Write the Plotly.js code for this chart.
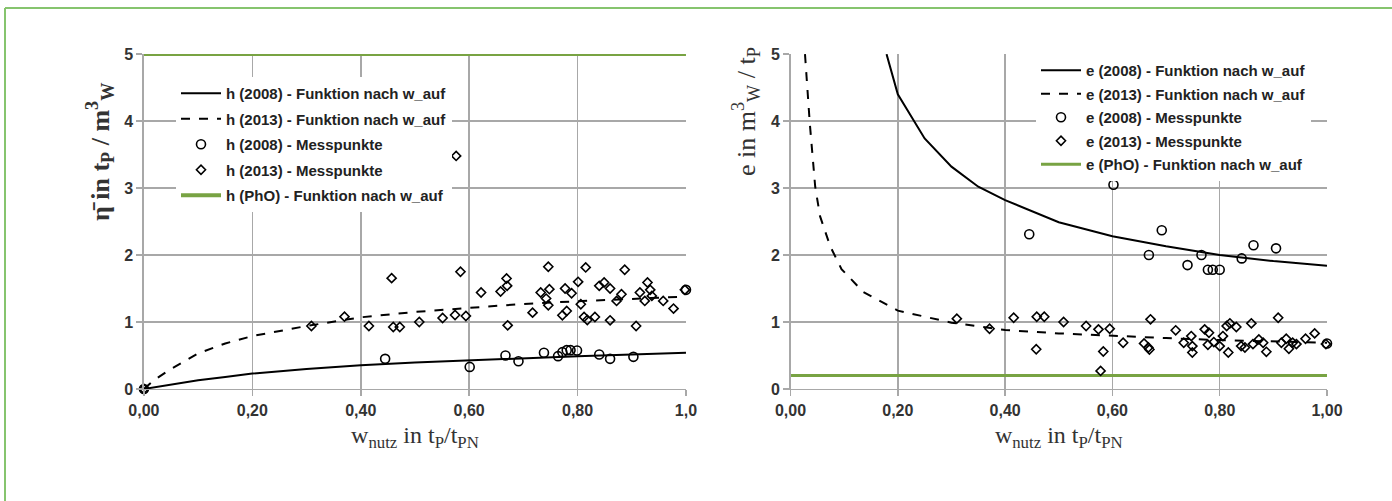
<!DOCTYPE html>
<html><head><meta charset="utf-8">
<script src="https://cdn.plot.ly/plotly-3.0.1.min.js"></script>
<style>html,body{margin:0;padding:0;background:#fff}#chart{width:1392px;height:501px}</style>
</head><body><div id="chart"></div>
<script>
// ---------- tick labels ----------
const xTickVals = [0, 0.2, 0.4, 0.6, 0.8, 1.0];
const xTickTextLeft = ["0,00", "0,20", "0,40", "0,60", "0,80", "1,0"];
const xTickTextRight = ["0,00", "0,20", "0,40", "0,60", "0,80", "1,00"];
const yTickVals = [0, 1, 2, 3, 4, 5];
const yTickText = ["0", "1", "2", "3", "4", "5"];

// ---------- left panel: h ----------
const h2008FuncX = [0, 0.05, 0.1, 0.15, 0.2, 0.3, 0.4, 0.5, 0.6, 0.7, 0.8, 0.9, 1.0];
const h2008FuncY = [0, 0.07, 0.13, 0.18, 0.23, 0.30, 0.355, 0.395, 0.43, 0.46, 0.49, 0.515, 0.54];
const h2013FuncX = [0, 0.02, 0.05, 0.1, 0.15, 0.2, 0.3, 0.4, 0.5, 0.6, 0.7, 0.8, 0.9, 1.0];
const h2013FuncY = [0, 0.14, 0.30, 0.53, 0.68, 0.79, 0.94, 1.07, 1.15, 1.21, 1.27, 1.31, 1.35, 1.38];
const h2008MessX = [0, 0.445, 0.601, 0.667, 0.691, 0.738, 0.764, 0.772, 0.780, 0.787, 0.799, 0.840, 0.860, 0.903, 1.0];
const h2008MessY = [0, 0.45, 0.33, 0.50, 0.415, 0.54, 0.49, 0.55, 0.58, 0.58, 0.575, 0.515, 0.45, 0.48, 1.48];
const h2013MessX = [0, 0.309, 0.370, 0.415, 0.457, 0.460, 0.472, 0.508, 0.551, 0.574, 0.576, 0.584, 0.594, 0.622, 0.658, 0.669, 0.670, 0.671,
  0.717, 0.732, 0.742, 0.746, 0.746, 0.748, 0.772, 0.777, 0.780, 0.789, 0.801, 0.806, 0.812, 0.815, 0.818, 0.832, 0.840, 0.849,
  0.860, 0.860, 0.872, 0.881, 0.887, 0.908, 0.915, 0.924, 0.929, 0.934, 0.937, 0.958, 0.977, 0.998];
const h2013MessY = [0, 0.94, 1.08, 0.94, 1.655, 0.925, 0.925, 1.00, 1.06, 1.105, 3.48, 1.75, 1.09, 1.44, 1.455, 1.65, 1.54, 0.95,
  1.14, 1.44, 1.35, 1.825, 1.25, 1.49, 1.10, 1.50, 1.165, 1.43, 1.60, 1.265, 1.075, 1.815, 1.03, 1.075, 1.54, 1.59,
  1.50, 1.025, 1.315, 1.415, 1.78, 0.94, 1.44, 1.315, 1.59, 1.48, 1.39, 1.315, 1.20, 1.48];
const hPhoX = [0, 1.0];
const hPhoY = [5, 5];

// ---------- right panel: e ----------
const e2008FuncX = [0.179, 0.2, 0.25, 0.3, 0.35, 0.4, 0.5, 0.6, 0.7, 0.8, 0.9, 1.0];
const e2008FuncY = [5.0, 4.40, 3.74, 3.32, 3.02, 2.82, 2.49, 2.28, 2.13, 2.00, 1.91, 1.84];
const e2013FuncX = [0.027, 0.031, 0.036, 0.046, 0.055, 0.074, 0.095, 0.136, 0.2, 0.3, 0.4, 0.5, 0.6, 0.7, 0.8, 0.9, 1.0];
const e2013FuncY = [5.0, 4.5, 3.96, 3.02, 2.58, 2.13, 1.79, 1.445, 1.17, 0.99, 0.88, 0.83, 0.79, 0.76, 0.73, 0.71, 0.69];
const e2008MessX = [0.445, 0.602, 0.668, 0.692, 0.740, 0.766, 0.778, 0.787, 0.800, 0.841, 0.863, 0.905, 1.0];
const e2008MessY = [2.31, 3.05, 2.00, 2.37, 1.85, 2.00, 1.78, 1.78, 1.78, 1.95, 2.145, 2.10, 0.68];
const e2013MessX = [0.310, 0.371, 0.416, 0.458, 0.459, 0.473, 0.509, 0.551, 0.574, 0.578, 0.583, 0.595, 0.620, 0.659, 0.667, 0.669, 0.671,
  0.718, 0.733, 0.747, 0.749, 0.749, 0.772, 0.780, 0.778, 0.789, 0.800, 0.806, 0.813, 0.816, 0.819, 0.831, 0.840, 0.847, 0.859,
  0.862, 0.873, 0.881, 0.887, 0.909, 0.915, 0.924, 0.929, 0.936, 0.943, 0.960, 0.977, 0.998];
const e2013MessY = [1.05, 0.90, 1.064, 0.594, 1.079, 1.079, 1.00, 0.94, 0.89, 0.27, 0.56, 0.90, 0.69, 0.68, 0.62, 0.59, 1.04,
  0.876, 0.69, 0.79, 0.64, 0.545, 0.89, 0.84, 0.66, 0.70, 0.64, 0.79, 0.94, 0.545, 0.98, 0.926, 0.64, 0.62, 0.98,
  0.67, 0.74, 0.69, 0.555, 1.064, 0.69, 0.75, 0.60, 0.69, 0.67, 0.75, 0.83, 0.67];
const ePhoX = [0, 1.0];
const ePhoY = [0.2, 0.2];

// ---------- styles ----------
const GREEN = "#78a343";
const GRID = "#a8a8a8";
const SANS = "Liberation Sans Narrow, Liberation Sans, Arial, sans-serif";
const SERIF = "Liberation Serif, Times New Roman, serif";

function lineTrace(x, y, name, dash, color, width, xa, ya, leg, grp) {
  return {type: "scatter", mode: "lines", x: x, y: y, name: "<b>" + name + "</b>",
    line: {color: color, width: width, dash: dash}, xaxis: xa, yaxis: ya,
    legend: leg, legendgroup: grp, hoverinfo: "skip", cliponaxis: false};
}
function markTrace(x, y, name, symbol, size, xa, ya, leg, grp) {
  return {type: "scatter", mode: "markers", x: x, y: y, name: "<b>" + name + "</b>",
    marker: {symbol: symbol, size: size, color: "#000", line: {color: "#000", width: 1.6}},
    xaxis: xa, yaxis: ya, legend: leg, legendgroup: grp, hoverinfo: "skip", cliponaxis: false};
}

const data = [
  lineTrace(hPhoX, hPhoY, "h (PhO) - Funktion nach w_auf", "solid", GREEN, 4, "x", "y", "legend", "a5"),
  lineTrace(h2008FuncX, h2008FuncY, "h (2008) - Funktion nach w_auf", "solid", "#000", 2, "x", "y", "legend", "a1"),
  lineTrace(h2013FuncX, h2013FuncY, "h (2013) - Funktion nach w_auf", "dash", "#000", 2, "x", "y", "legend", "a2"),
  markTrace(h2008MessX, h2008MessY, "h (2008) - Messpunkte", "circle-open", 9, "x", "y", "legend", "a3"),
  markTrace(h2013MessX, h2013MessY, "h (2013) - Messpunkte", "diamond-open", 7, "x", "y", "legend", "a4"),

  lineTrace(ePhoX, ePhoY, "e (PhO) - Funktion nach w_auf", "solid", GREEN, 3, "x2", "y2", "legend2", "b5"),
  lineTrace(e2008FuncX, e2008FuncY, "e (2008) - Funktion nach w_auf", "solid", "#000", 2, "x2", "y2", "legend2", "b1"),
  lineTrace(e2013FuncX, e2013FuncY, "e (2013) - Funktion nach w_auf", "dash", "#000", 2, "x2", "y2", "legend2", "b2"),
  markTrace(e2008MessX, e2008MessY, "e (2008) - Messpunkte", "circle-open", 9, "x2", "y2", "legend2", "b3"),
  markTrace(e2013MessX, e2013MessY, "e (2013) - Messpunkte", "diamond-open", 7, "x2", "y2", "legend2", "b4")
];
// legend order
data[0].legendrank = 5; data[1].legendrank = 1; data[2].legendrank = 2; data[3].legendrank = 3; data[4].legendrank = 4;
data[5].legendrank = 5; data[6].legendrank = 1; data[7].legendrank = 2; data[8].legendrank = 3; data[9].legendrank = 4;

function xAxis(dom, ticktext, anchor) {
  return {domain: dom, range: [0, 1.0], anchor: anchor, tickmode: "array", tickvals: xTickVals, ticktext: ticktext,
    showgrid: true, gridcolor: GRID, gridwidth: 1.5, zeroline: false,
    showline: true, linecolor: GRID, linewidth: 1.5,
    ticks: "outside", ticklen: 6, tickcolor: GRID, tickwidth: 1.5,
    tickfont: {family: SANS, size: 16, color: "#333", weight: "bold"},
    title: {text: "w<sub>nutz</sub> in t<sub>P</sub>/t<sub>PN</sub>", font: {family: SERIF, size: 24, color: "#333"}, standoff: 8}};
}
function yAxis(anchor) {
  return {domain: [0.2236, 0.892], range: [0, 5], anchor: anchor, tickmode: "array", tickvals: yTickVals, ticktext: yTickText,
    showgrid: true, gridcolor: GRID, gridwidth: 1.5, zeroline: false,
    showline: true, linecolor: GRID, linewidth: 1.5,
    ticks: "outside", ticklen: 6, tickcolor: GRID, tickwidth: 1.5,
    tickfont: {family: SANS, size: 16, color: "#333", weight: "bold"}};
}

const legendBase = {bgcolor: "#ffffff", borderwidth: 0, itemclick: false, itemdoubleclick: false,
  font: {family: SANS, size: 15, color: "#222"}, xanchor: "left", yanchor: "top", itemwidth: 40};

const layout = {
  width: 1392, height: 501, margin: {l: 0, r: 0, t: 0, b: 0},
  paper_bgcolor: "#fff", plot_bgcolor: "#fff", showlegend: true,
  xaxis: xAxis([0.1034, 0.4928], xTickTextLeft, "y"),
  yaxis: yAxis("x"),
  xaxis2: xAxis([0.5679, 0.9533], xTickTextRight, "y2"),
  yaxis2: yAxis("x2"),
  legend: Object.assign({}, legendBase, {x: 176 / 1392, y: 1 - 77 / 501, tracegroupgap: 3}),
  legend2: Object.assign({}, legendBase, {x: 1036 / 1392, y: 1 - 54 / 501, tracegroupgap: 1}),
  annotations: [
    {text: "<b>η\u0304 in t<sub>P</sub> / m<sup>3</sup><sub>W</sub></b>", xref: "paper", yref: "paper",
      x: 100 / 1392, y: 1 - 152 / 501, xanchor: "center", yanchor: "middle", textangle: -90, showarrow: false,
      font: {family: SERIF, size: 26, color: "#333"}},
    {text: "e in m<sup>3</sup><sub>W</sub> / t<sub>P</sub>", xref: "paper", yref: "paper",
      x: 746 / 1392, y: 1 - 112 / 501, xanchor: "center", yanchor: "middle", textangle: -90, showarrow: false,
      font: {family: SERIF, size: 26, color: "#333"}}
  ],
  shapes: [
    {type: "line", xref: "paper", yref: "paper", x0: 5 / 1392, x1: 1, y0: 1 - 8 / 501, y1: 1 - 8 / 501, line: {color: "#86c46e", width: 2}},
    {type: "line", xref: "paper", yref: "paper", x0: 5 / 1392, x1: 5 / 1392, y0: 0, y1: 1 - 8 / 501, line: {color: "#86c46e", width: 2}}
  ]
};

Plotly.newPlot("chart", data, layout, {staticPlot: true, displayModeBar: false});
</script>
</body></html>
